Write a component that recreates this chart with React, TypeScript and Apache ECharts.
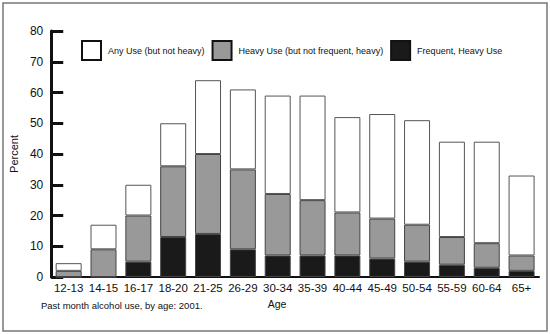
import React, { useEffect, useRef } from "react";
import * as echarts from "echarts";

const ageGroups = ["12-13", "14-15", "16-17", "18-20", "21-25", "26-29", "30-34", "35-39", "40-44", "45-49", "50-54", "55-59", "60-64", "65+"];
// Cumulative readings (percent)
const frequentHeavy = [0, 0, 5, 13, 14, 9, 7, 7, 7, 6, 5, 4, 3, 2];
const heavyTotal = [2, 9, 20, 36, 40, 35, 27, 25, 21, 19, 17, 13, 11, 7];
const anyTotal = [4.5, 17, 30, 50, 64, 61, 59, 59, 52, 53, 51, 44, 44, 33];
const yTicks = { min: 0, max: 80, interval: 10 };

const heavyOnly = heavyTotal.map((v, i) => v - frequentHeavy[i]);
const anyOnly = anyTotal.map((v, i) => v - heavyTotal[i]);

const FONT = "'Liberation Sans', Arial, Helvetica, sans-serif";

export default function App() {
  const ref = useRef<HTMLDivElement>(null);
  useEffect(() => {
    document.body.style.margin = "0";
    if (!ref.current) return;
    const chart = echarts.init(ref.current, null, { renderer: "svg" });
    const barBase = {
      type: "bar" as const,
      stack: "total",
      barWidth: 26,
    };
    chart.setOption({
      animation: false,
      textStyle: { fontFamily: FONT },
      grid: { left: 44, right: 11, top: 31, bottom: 57, containLabel: false },
      legend: {
        left: 81,
        top: 40,
        padding: 0,
        itemWidth: 19,
        itemHeight: 19,
        itemGap: 7,
        icon: "rect",
        textStyle: { fontFamily: FONT, fontSize: 9, color: "#111", padding: [0, 0, 0, 2] },
        data: [
          { name: "Any Use (but not heavy)", itemStyle: { color: "#fff", borderColor: "#111", borderWidth: 2 } },
          { name: "Heavy Use (but not frequent, heavy)", itemStyle: { color: "#999", borderColor: "#111", borderWidth: 2 } },
          { name: "Frequent, Heavy Use", itemStyle: { color: "#1a1a1a", borderColor: "#111", borderWidth: 2 } },
        ],
      },
      xAxis: {
        type: "category",
        data: ageGroups,
        name: "Age",
        nameLocation: "middle",
        nameGap: 21,
        nameTextStyle: { fontFamily: FONT, fontSize: 10.5, color: "#111", padding: [0, 36, 0, 0] },
        axisLine: { lineStyle: { color: "#111", width: 2 } },
        axisTick: { inside: true, length: 5, lineStyle: { color: "#111", width: 2 } },
        axisLabel: { fontFamily: FONT, fontSize: 11.5, color: "#111", margin: 5, interval: 0 },
      },
      yAxis: {
        type: "value",
        min: yTicks.min,
        max: yTicks.max,
        interval: yTicks.interval,
        name: "Percent",
        nameLocation: "middle",
        nameGap: 27,
        nameTextStyle: { fontFamily: FONT, fontSize: 11, color: "#111" },
        splitLine: { show: false },
        axisLine: { show: true, lineStyle: { color: "#111", width: 3 } },
        axisTick: { show: true, inside: true, length: 12, lineStyle: { color: "#111", width: 3 } },
        axisLabel: { fontFamily: FONT, fontSize: 12, color: "#111", margin: 8 },
      },
      series: [
        {
          ...barBase,
          name: "Frequent, Heavy Use",
          data: frequentHeavy,
          itemStyle: { color: "#1a1a1a", borderColor: "#444", borderWidth: 1 },
        },
        {
          ...barBase,
          name: "Heavy Use (but not frequent, heavy)",
          data: heavyOnly,
          itemStyle: { color: "#999", borderColor: "#444", borderWidth: 1 },
        },
        {
          ...barBase,
          name: "Any Use (but not heavy)",
          data: anyOnly,
          itemStyle: { color: "#fff", borderColor: "#555", borderWidth: 1 },
        },
      ],
      graphic: [
        {
          type: "rect",
          shape: { x: 3, y: 3, width: 544, height: 328 },
          style: { fill: "none", stroke: "#777", lineWidth: 1.5 },
          silent: true,
        },
        {
          type: "text",
          left: 41,
          top: 300,
          style: { text: "Past month alcohol use, by age: 2001.", font: `9.5px ${FONT}`, fill: "#111" },
        },
      ],
    });
    return () => chart.dispose();
  }, []);
  return <div ref={ref} style={{ width: 550, height: 334 }} />;
}
